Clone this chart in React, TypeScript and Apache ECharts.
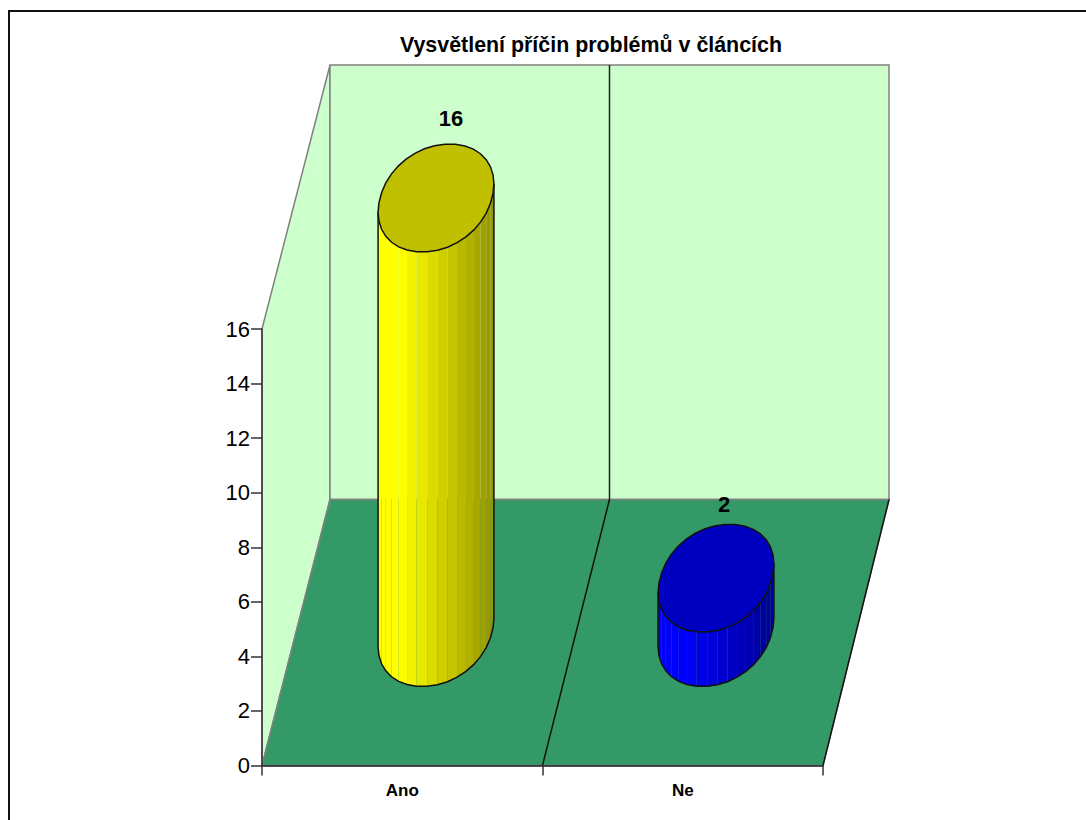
import React, { useEffect, useRef } from "react";
import * as echarts from "echarts";

const title = "Vysvětlení příčin problémů v článcích";
const categories = ["Ano", "Ne"];
const values = [16, 2];
const topColors = ["#C0C000", "#0000C0"];
const sideColors = [[255, 255, 0], [0, 0, 255]];
const labelOffsets = [[15, -80], [8, -74]];

const WALL = "#CCFFCC";
const FLOOR = "#339966";
const EDGE = "#808080";
const DEPTH_X = 68;
const DEPTH_Y = -266;
const BACK_SCALE = 434.5 / 436.5;
const BACK_X_SCALE = 559 / 561;
const RAD_X = 56;
const RAD_D = 0.2026;
const SEGMENTS = 36;
const ROUNDNESS = 2.08;

function App() {
  const ref = useRef<HTMLDivElement>(null);
  useEffect(() => {
    const chart = echarts.init(ref.current!, null, { renderer: "svg" });

    const renderScene = (params: any, api: any) => {
      const c = params.coordSys;
      const l = c.x, r = c.x + c.width, t = c.y, b = c.y + c.height;
      const mx = (api.coord([0, 0])[0] + api.coord([1, 0])[0]) / 2;
      const backX = (x: number) => l + DEPTH_X + (x - l) * BACK_X_SCALE;
      const bx = backX(l), by = b + DEPTH_Y;
      const wt = by - c.height * BACK_SCALE;
      const bxr = backX(r);
      const bmx = backX(mx);
      const poly = (points: number[][], fill: string) => ({
        type: "polygon",
        shape: { points },
        style: { fill, stroke: EDGE, lineWidth: 1.5 },
      });
      const line = (a: number[], e: number[], stroke: string) => ({
        type: "line",
        shape: { x1: a[0], y1: a[1], x2: e[0], y2: e[1] },
        style: { stroke, lineWidth: 1.5 },
      });
      return {
        type: "group",
        children: [
          poly([[l, t], [bx, wt], [bx, by], [l, b]], WALL),
          poly([[bx, wt], [bxr, wt], [bxr, by], [bx, by]], WALL),
          poly([[l, b], [bx, by], [bxr, by], [r, b]], FLOOR),
          line([bmx, wt], [bmx, by], "#222"),
          line([mx, b], [bmx, by], "#111"),
          line([r, b], [bxr, by], "#111"),
        ],
      };
    };

    const renderCylinder = (params: any, api: any) => {
      const idx = api.value(0);
      const v = api.value(1);
      const front = api.coord([idx, 0]);
      const head = api.coord([idx, v]);
      const l = params.coordSys.x;
      const cx = l + (front[0] - l) * (1 + BACK_X_SCALE) / 2 + DEPTH_X / 2;
      const cy = front[1] + DEPTH_Y / 2;
      const h = (front[1] - head[1]) * BACK_SCALE;
      const bend = (q: number) => Math.sign(q) * Math.pow(Math.abs(q), 2 / ROUNDNESS);
      const pt = (th: number, dy: number) => [
        cx + RAD_X * bend(Math.cos(th)) + RAD_D * DEPTH_X * bend(Math.sin(th)),
        cy + RAD_D * DEPTH_Y * bend(Math.sin(th)) - dy,
      ];
      let th0 = 0;
      for (let q = 0; q < Math.PI / 2; q += 0.005) {
        if (pt(q, 0)[0] > pt(th0, 0)[0]) th0 = q;
      }
      const xMin = pt(th0 - Math.PI, 0)[0];
      const xMax = pt(th0, 0)[0];
      const base = sideColors[idx];
      const children: any[] = [];
      const step = (2 * Math.PI) / SEGMENTS;
      const half = SEGMENTS / 2;
      const outlineLower: number[][] = [];
      for (let i = 0; i < half; i++) {
        const a = th0 - Math.PI + i * step;
        const e = a + step;
        const p1 = pt(a, 0), p2 = pt(e, 0), p3 = pt(e, h), p4 = pt(a, h);
        const u = ((p1[0] + p2[0]) / 2 - xMin) / (xMax - xMin);
        const f = u < 0.2 ? 1 : 1 - ((u - 0.2) / 0.8) * 0.42;
        const col = `rgb(${base.map((n) => Math.round(n * f)).join(",")})`;
        children.push({ type: "polygon", shape: { points: [p1, p2, p3, p4] }, style: { fill: col } });
        outlineLower.push(p1);
      }
      outlineLower.push(pt(th0, 0));
      children.push({
        type: "polyline",
        shape: { points: [pt(th0 - Math.PI, h), ...outlineLower, pt(th0, h)] },
        style: { fill: "none", stroke: "#111", lineWidth: 1.5 },
      });
      const topPts: number[][] = [];
      for (let i = 0; i < SEGMENTS; i++) topPts.push(pt(i * step + th0, h));
      children.push({
        type: "polygon",
        shape: { points: topPts },
        style: { fill: topColors[idx], stroke: "#111", lineWidth: 1.5 },
      });
      children.push({
        type: "text",
        style: {
          text: String(v),
          x: cx + labelOffsets[idx][0],
          y: cy - h + labelOffsets[idx][1],
          align: "center",
          verticalAlign: "middle",
          font: "bold 22px 'Liberation Sans'",
          fill: "#000",
        },
      });
      return { type: "group", children };
    };

    chart.setOption({
      animation: false,
      backgroundColor: "#fff",
      title: {
        text: title,
        left: 586,
        top: 29,
        textAlign: "center",
        textStyle: { fontFamily: "Liberation Sans", fontWeight: "bold", fontSize: 21.4, color: "#000" },
      },
      grid: { left: 262, top: 329, width: 561, height: 436.5 },
      xAxis: {
        type: "category",
        data: categories,
        z: 6,
        axisLine: { lineStyle: { color: "#222", width: 1.5 } },
        axisTick: { show: true, alignWithLabel: false, length: 10, lineStyle: { color: "#333", width: 1.5 } },
        axisLabel: { fontFamily: "Liberation Sans", fontWeight: "bold", fontSize: 17, color: "#000", margin: 16 },
      },
      yAxis: {
        type: "value",
        min: 0,
        max: 16,
        interval: 2,
        z: 6,
        splitLine: { show: false },
        axisLine: { show: true, lineStyle: { color: "#333", width: 1.5 } },
        axisTick: { show: true, length: 11, lineStyle: { color: "#333", width: 1.5 } },
        axisLabel: { fontFamily: "Liberation Sans", fontSize: 22, color: "#000", margin: 12 },
      },
      graphic: [
        {
          type: "polyline",
          shape: { points: [[9, 820], [9, 11], [1086, 11]] },
          style: { fill: "none", stroke: "#111", lineWidth: 2 },
          z: 10,
        },
      ],
      series: [
        { type: "custom", renderItem: renderScene, data: [[0, 0]], z: 1, silent: true, clip: false },
        { type: "custom", renderItem: renderCylinder, data: values.map((v, i) => [i, v]), z: 2, silent: true, clip: false },
      ],
    });
    return () => chart.dispose();
  }, []);
  return <div ref={ref} style={{ position: "absolute", left: 0, top: 0, width: 1086, height: 820 }} />;
}

export default App;
